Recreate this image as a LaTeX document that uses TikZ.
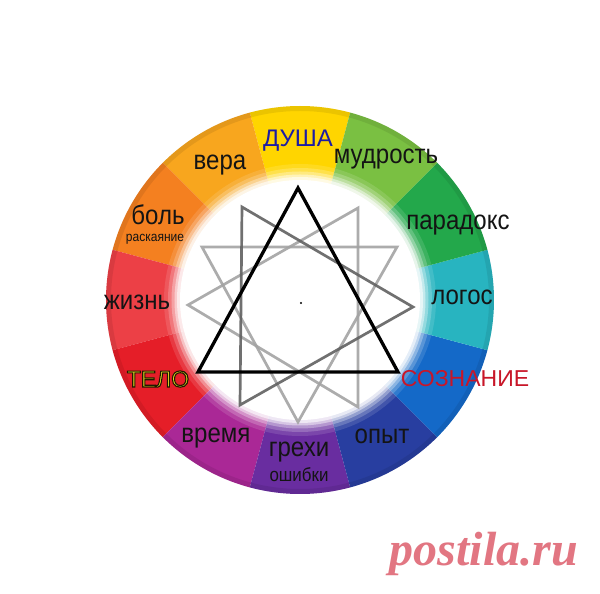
\documentclass[tikz,border=0pt]{standalone}
\usepackage{fontspec}
\setmainfont{Liberation Sans}
\newfontfamily\wordfont[FakeStretch=0.89]{Liberation Sans}
\newfontfamily\postilafont{Liberation Serif}

\definecolor{dusha}{RGB}{255,213,0}
\definecolor{vera}{RGB}{248,166,30}
\definecolor{bol}{RGB}{244,128,32}
\definecolor{zhizn}{RGB}{236,64,70}
\definecolor{telo}{RGB}{229,30,40}
\definecolor{vremya}{RGB}{170,40,150}
\definecolor{grekhi}{RGB}{105,45,160}
\definecolor{opyt}{RGB}{40,62,160}
\definecolor{soznanie}{RGB}{20,105,200}
\definecolor{logos}{RGB}{40,180,192}
\definecolor{paradoks}{RGB}{35,168,75}
\definecolor{mudrost}{RGB}{122,192,66}
\definecolor{dushablue}{RGB}{28,28,165}
\definecolor{teloyellow}{RGB}{240,226,40}
\definecolor{soznanired}{RGB}{200,22,40}
\definecolor{postilapink}{RGB}{226,118,130}

\newcommand{\outlined}[1]{\special{pdf:literal direct 0.12 0.1 0 RG 1.1 w 2 Tr}#1\special{pdf:literal direct 0 Tr}}

\tikzset{
  ringtext/.style={font=\wordfont\fontsize{27}{27}\selectfont,text=black!92,inner sep=0pt,anchor=base},
  capstext/.style={font=\fontsize{24}{24}\selectfont,inner sep=0pt,anchor=base},
  smalltext/.style={font=\wordfont\fontsize{13.5}{13.5}\selectfont,text=black!92,inner sep=0pt,anchor=base},
  triline/.style={line width=3.3pt,line join=miter,black},
  greyline/.style={line width=2.7pt,line join=miter,black!36,opacity=0.9},
  darkline/.style={line width=2.7pt,line join=miter,black!62,opacity=0.9}
}

\begin{document}
\begin{tikzpicture}[x=1pt,y=1pt]
        \useasboundingbox (-300,-294) rectangle (300,300);
        \fill[white] (-300,-294) rectangle (300,300);
        \fill[dusha] (0,0) -- (75:194) arc[start angle=75,end angle=105,radius=194] -- cycle;
        \fill[vera] (0,0) -- (105:194) arc[start angle=105,end angle=135,radius=194] -- cycle;
        \fill[bol] (0,0) -- (135:194) arc[start angle=135,end angle=165,radius=194] -- cycle;
        \fill[zhizn] (0,0) -- (165:194) arc[start angle=165,end angle=195,radius=194] -- cycle;
        \fill[telo] (0,0) -- (195:194) arc[start angle=195,end angle=225,radius=194] -- cycle;
        \fill[vremya] (0,0) -- (225:194) arc[start angle=225,end angle=255,radius=194] -- cycle;
        \fill[grekhi] (0,0) -- (255:194) arc[start angle=255,end angle=285,radius=194] -- cycle;
        \fill[opyt] (0,0) -- (285:194) arc[start angle=285,end angle=315,radius=194] -- cycle;
        \fill[soznanie] (0,0) -- (315:194) arc[start angle=315,end angle=345,radius=194] -- cycle;
        \fill[logos] (0,0) -- (345:194) arc[start angle=345,end angle=375,radius=194] -- cycle;
        \fill[paradoks] (0,0) -- (15:194) arc[start angle=15,end angle=45,radius=194] -- cycle;
        \fill[mudrost] (0,0) -- (45:194) arc[start angle=45,end angle=75,radius=194] -- cycle;
        \draw[black,opacity=0.08,line width=5pt] (0,0) circle[radius=191.5];
        \fill[white,opacity=0.12] (0,0) circle[radius=136];
        \fill[white,opacity=0.2] (0,0) circle[radius=132];
        \fill[white,opacity=0.3] (0,0) circle[radius=128.5];
        \fill[white,opacity=0.45] (0,0) circle[radius=125.5];
        \fill[white,opacity=0.6] (0,0) circle[radius=123];
        \fill[white] (0,0) circle[radius=120];
        \coordinate (g1) at (97,53);
        \coordinate (g4) at (-98,53);
        \coordinate (g7) at (-2,-122);
        \coordinate (g3) at (-58,93);
        \coordinate (g9) at (113,-7);
        \coordinate (g6) at (-60,-105);
        \coordinate (g2) at (58,92);
        \coordinate (g5) at (-112,-5);
        \coordinate (g8) at (58,-107);
        \coordinate (top) at (-2,112);
        \coordinate (left) at (-102,-72);
        \coordinate (right) at (98,-72);
        \draw[greyline] (g1) -- (g4) -- (g7) -- cycle;
        \draw[greyline] (g2) -- (g5) -- (g8) -- cycle;
        \draw[darkline] (g3) -- (g9) -- (g6) -- cycle;
        \draw[triline] (top) -- (left) -- (right) -- cycle;
        \fill[black] (1,-3) circle[radius=1.1];
        \node[capstext,text=dushablue] (dushatext) at (-2,153) {ДУША};
        \node[ringtext] (veratext) at (-80,130) {вера};
        \node[ringtext] (mudrosttext) at (86,136) {мудрость};
        \node[ringtext] (paradokstext) at (158,70) {парадокс};
        \node[ringtext] (logostext) at (162,-5) {логос};
        \node[capstext,text=soznanired,font=\fontsize{23}{23}\selectfont] (soznanietext) at (165,-87) {СОЗНАНИЕ};
        \node[ringtext] (opyttext) at (82,-144) {опыт};
        \node[ringtext] (grekhitext) at (-1,-157) {грехи};
        \node[ringtext,font=\wordfont\fontsize{19}{19}\selectfont] (oshibkitext) at (-1,-182) {ошибки};
        \node[ringtext] (vremyatext) at (-84,-143) {время};
        \node[capstext,text=teloyellow,font=\fontsize{23}{23}\selectfont] (telotext) at (-142,-87) {\outlined{ТЕЛО}};
        \node[ringtext] (zhizntext) at (-163,-10) {жизнь};
        \node[ringtext] (boltext) at (-142,75) {боль};
        \node[smalltext] (raskayanietext) at (-145,58) {раскаяние};
        \node[inner sep=0pt,anchor=base,text=postilapink,font=\postilafont\bfseries\itshape\fontsize{48}{48}\selectfont] (postila) at (184,-265) {postila.ru};
    \end{tikzpicture}
\end{document}
